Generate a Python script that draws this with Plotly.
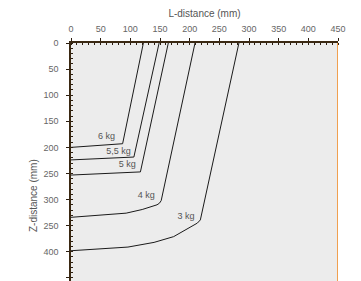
import plotly.graph_objects as go

# Data (L-distance mm, Z-distance mm)
names = ["6 kg", "5,5 kg", "5 kg", "4 kg", "3 kg"]
l_6 = [122, 87, 0]
z_6 = [0, 193, 200]
l_55 = [148.5, 106, 0]
z_55 = [0, 218.5, 224]
l_5 = [164, 117, 0]
z_5 = [0, 247, 253]
l_4 = [209, 152, 149, 145, 120, 93, 0]
z_4 = [0, 302, 307, 310, 319, 326, 334]
l_3 = [283, 218, 213, 207, 190, 173, 140, 96, 0]
z_3 = [0, 339, 345, 349, 361, 371, 382, 391, 398]

label_l = [60, 80, 95, 127, 194]
label_z = [180, 209, 233, 293, 332]

x_ticks = [0, 50, 100, 150, 200, 250, 300, 350, 400, 450]
y_ticks = [0, 50, 100, 150, 200, 250, 300, 350, 400, 450]
y_ticktext = ["0", "50", "100", "150", "200", "250", "300", "250", "400", "450"]

fig = go.Figure()
for lx, lz in [(l_6, z_6), (l_55, z_55), (l_5, z_5), (l_4, z_4), (l_3, z_3)]:
    fig.add_trace(go.Scatter(x=lx, y=lz, mode="lines",
                             line=dict(color="#1a1a1a", width=1),
                             hoverinfo="skip", showlegend=False))

fig.add_trace(go.Scatter(x=label_l, y=label_z, mode="text", text=names,
                         textfont=dict(size=9, color="#555555", family="Liberation Sans"),
                         showlegend=False, hoverinfo="skip"))

# page body has an 8px margin; figure is sized/margined to land at the reference pixels
W, H = 353, 273
ML, MT, MR = 63, 35, 23
axis_font = dict(size=9, color="#666666", family="Liberation Sans")
fig.update_layout(
    width=W, height=H,
    margin=dict(l=ML, r=MR, t=MT, b=0),
    paper_bgcolor="white",
    plot_bgcolor="#ececec",
    xaxis=dict(side="top", range=[0, 450], tickvals=x_ticks, ticks="outside",
               ticklen=3, tickcolor="#2b1d10", showline=True, linecolor="#3a2812",
               linewidth=1.5, showgrid=False, zeroline=False, tickfont=axis_font,
               ticklabelstandoff=3,
               title=dict(text="L-distance (mm)", font=dict(size=10, color="#555555",
                          family="Liberation Sans"), standoff=7),
               minor=dict(dtick=10, ticks="inside", ticklen=2, tickcolor="#2b1d10"),
               fixedrange=True),
    yaxis=dict(range=[456, 0], tickvals=y_ticks, ticktext=y_ticktext, ticks="outside",
               ticklen=3, tickcolor="#2b1d10", showline=True, linecolor="#3a2812",
               linewidth=1.5, showgrid=False, zeroline=False, tickfont=axis_font,
               ticklabelstandoff=6,
               minor=dict(dtick=10, ticks="inside", ticklen=2, tickcolor="#2b1d10"),
               fixedrange=True),
    shapes=[dict(type="line", xref="x", yref="paper", x0=450, x1=450, y0=0, y1=1,
                 line=dict(color="#f0a050", width=2))],
)
plot_w = W - ML - MR
plot_h = H - MT
fig.add_annotation(text="Z-distance (mm)", showarrow=False, textangle=-90,
                   xref="paper", x=-(71 - 33) / plot_w, xanchor="center",
                   yref="paper", y=1 - (196 - 43) / plot_h, yanchor="middle",
                   font=dict(size=10, color="#555555", family="Liberation Sans"))

fig.write_html("out.html")
